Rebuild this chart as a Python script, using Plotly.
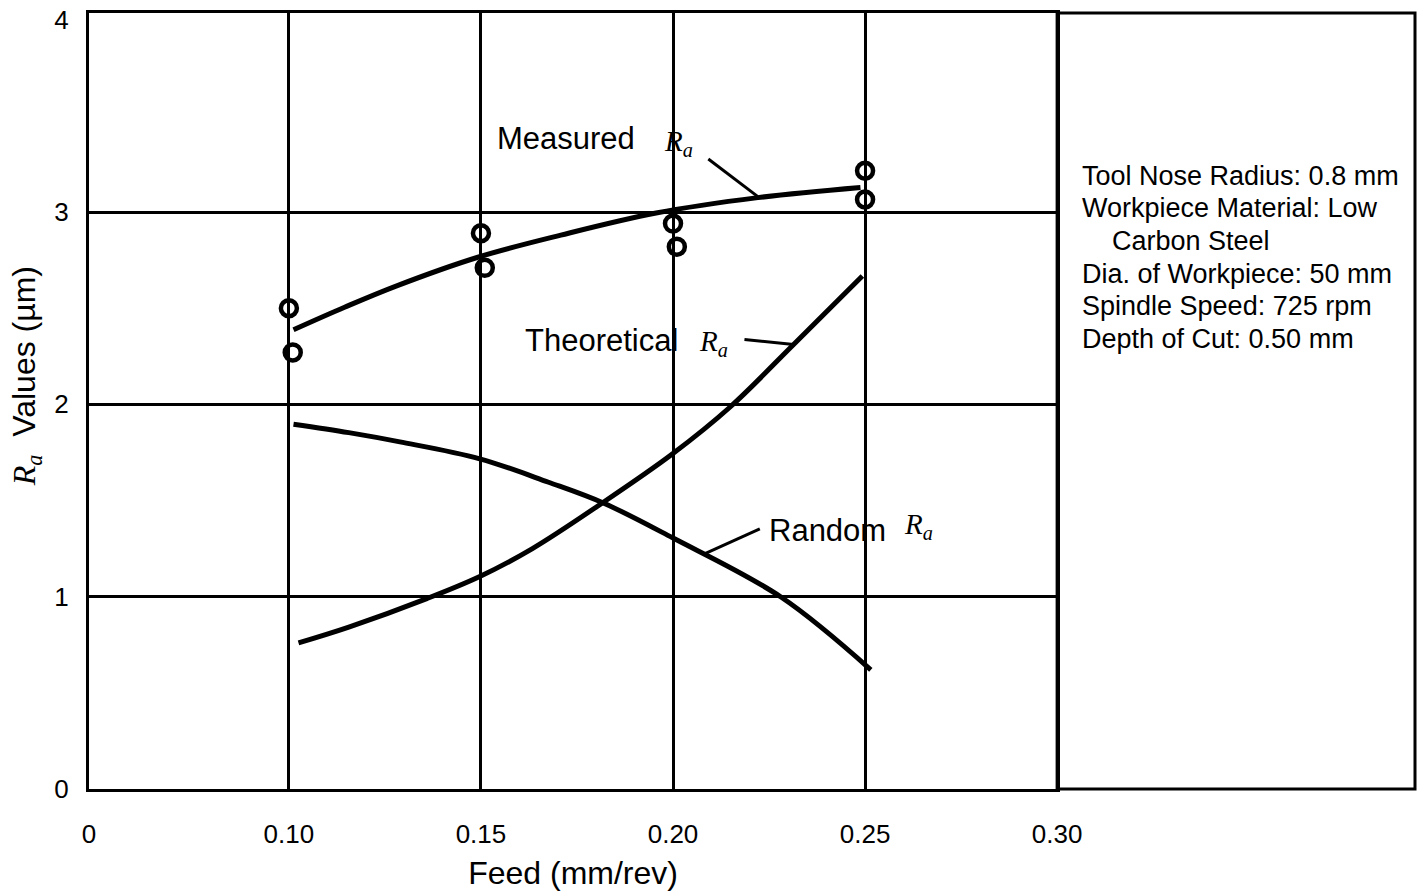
import plotly.graph_objects as go

# ---------------- data ----------------
feed_ticks = [0.10, 0.15, 0.20, 0.25, 0.30]
feed_tick_text = ["0.10", "0.15", "0.20", "0.25", "0.30"]
ra_ticks = [0, 1, 2, 3, 4]
ra_tick_text = ["0", "1", "2", "3", "4"]

# measured data points (open circles)
measured_pts_feed = [0.100, 0.101, 0.150, 0.151, 0.200, 0.201, 0.250, 0.250]
measured_pts_ra = [2.50, 2.27, 2.89, 2.71, 2.94, 2.82, 3.215, 3.065]

# measured Ra fitted curve
measured_curve_feed = [0.1012, 0.1145, 0.1279, 0.1492, 0.1708, 0.1956, 0.2221, 0.2488]
measured_curve_ra = [2.388, 2.505, 2.615, 2.765, 2.880, 2.995, 3.075, 3.128]

# theoretical Ra curve
theoretical_feed = [0.1025, 0.1156, 0.1359, 0.1497, 0.1634, 0.1815, 0.1999, 0.2148, 0.2314, 0.2493]
theoretical_ra = [0.760, 0.842, 0.990, 1.105, 1.250, 1.486, 1.743, 1.985, 2.311, 2.668]

# random Ra curve
random_feed = [0.1012, 0.1156, 0.1289, 0.1497, 0.1676, 0.1820, 0.1999, 0.2282, 0.2515]
random_ra = [1.897, 1.853, 1.805, 1.717, 1.595, 1.486, 1.306, 0.997, 0.620]

info_lines = [
    "Tool Nose Radius: 0.8 mm",
    "Workpiece Material: Low",
    "   Carbon Steel",
    "Dia. of Workpiece: 50 mm",
    "Spindle Speed: 725 rpm",
    "Depth of Cut: 0.50 mm",
]

# ---------------- layout constants ----------------
AXIS_ORIGIN = 0.04796   # broken axis: left frame is labelled "0"
X_MAX = 0.30
Y_MAX = 4.035
PANEL_SPLIT = 0.7301    # fraction of plot width used by the graph (rest is info panel)
SANS = "Liberation Sans, Arial, Helvetica, sans-serif"
SERIF = "Liberation Serif, Times New Roman, serif"
RA = "<i>R<sub>a</sub></i>"

fig = go.Figure()

curve_line = dict(color="black", width=5, shape="spline", smoothing=1.0)
for xs, ys in [(measured_curve_feed, measured_curve_ra),
               (theoretical_feed, theoretical_ra),
               (random_feed, random_ra)]:
    fig.add_trace(go.Scatter(x=xs, y=ys, mode="lines", line=curve_line,
                             showlegend=False, hoverinfo="skip"))

fig.add_trace(go.Scatter(
    x=measured_pts_feed, y=measured_pts_ra, mode="markers",
    marker=dict(symbol="circle-open", size=16, color="black",
                line=dict(width=4.5, color="black")),
    showlegend=False, hoverinfo="skip"))

# leader lines (label -> curve)
leaders = [
    ((0.2092, 3.276), (0.2221, 3.080)),
    ((0.2186, 2.337), (0.2314, 2.311)),
    ((0.2226, 1.352), (0.2079, 1.220)),
]
for (xa, ya), (xb, yb) in leaders:
    fig.add_shape(type="line", xref="x", yref="y", x0=xa, y0=ya, x1=xb, y1=yb,
                  line=dict(color="black", width=3))

# curve labels
labels = [
    ("Measured", 0.1721, 3.383, 0.1972, 3.36),
    ("Theoretical", 0.1815, 2.332, 0.2063, 2.32),
    ("Random", 0.2402, 1.342, 0.2597, 1.37),
]
for txt, xt, yt, xr, yr in labels:
    fig.add_annotation(x=xt, y=yt, text=txt, showarrow=False, xanchor="center",
                       yanchor="middle", font=dict(family=SANS, size=31, color="black"))
    fig.add_annotation(x=xr, y=yr, text=RA, showarrow=False, xanchor="left",
                       yanchor="middle", font=dict(family=SERIF, size=29, color="black"))

# info panel (right part of the frame)
fig.add_shape(type="rect", xref="paper", yref="paper", x0=PANEL_SPLIT, x1=1, y0=0, y1=1,
              line=dict(color="black", width=3), fillcolor="rgba(0,0,0,0)")
info_y = [0.7900, 0.7481, 0.7062, 0.6643, 0.6224, 0.5805]
for line, yy in zip(info_lines, info_y):
    indent = line.startswith(" ")
    fig.add_annotation(xref="paper", yref="paper", x=0.770 if indent else 0.7474, y=yy,
                       text=line.strip(), showarrow=False, xanchor="left", yanchor="middle",
                       font=dict(family=SANS, size=27, color="black"))

# y-axis title (placed as rotated text, as in the reference it sits above centre)
fig.add_annotation(xref="paper", yref="paper", x=-0.0474, y=0.532, textangle=-90,
                   text=f"<span style='font-family:Liberation Serif'>{RA}</span>  Values (µm)",
                   showarrow=False, xanchor="center", yanchor="middle",
                   font=dict(family=SANS, size=32, color="black"))

fig.update_layout(
    width=1444, height=894,
    margin=dict(l=89, r=4, t=13, b=105),
    paper_bgcolor="white", plot_bgcolor="white",
    font=dict(family=SANS, color="black"),
    xaxis=dict(
        domain=[0, PANEL_SPLIT], range=[AXIS_ORIGIN, X_MAX],
        tickmode="array", tickvals=[AXIS_ORIGIN] + feed_ticks,
        ticktext=["0"] + feed_tick_text,
        showgrid=True, gridcolor="black", gridwidth=2.5,
        zeroline=False, showline=True, linecolor="black", linewidth=3, mirror=True,
        ticks="", ticklabelstandoff=20, tickfont=dict(family=SANS, size=26, color="black"),
        title=dict(text="Feed (mm/rev)", font=dict(family=SANS, size=32, color="black"),
                   standoff=14),
    ),
    yaxis=dict(
        range=[0, Y_MAX], tickmode="array", tickvals=ra_ticks, ticktext=ra_tick_text,
        showgrid=False,
        minor=dict(tickvals=[1, 2, 3], showgrid=True, gridcolor="black", gridwidth=2.5, ticks=""),
        zeroline=False, showline=True, linecolor="black", linewidth=3, mirror=True,
        ticks="", ticklabelstandoff=12,
        tickfont=dict(family=SANS, size=26, color="black"),
    ),
)

fig.write_html("out.html")
